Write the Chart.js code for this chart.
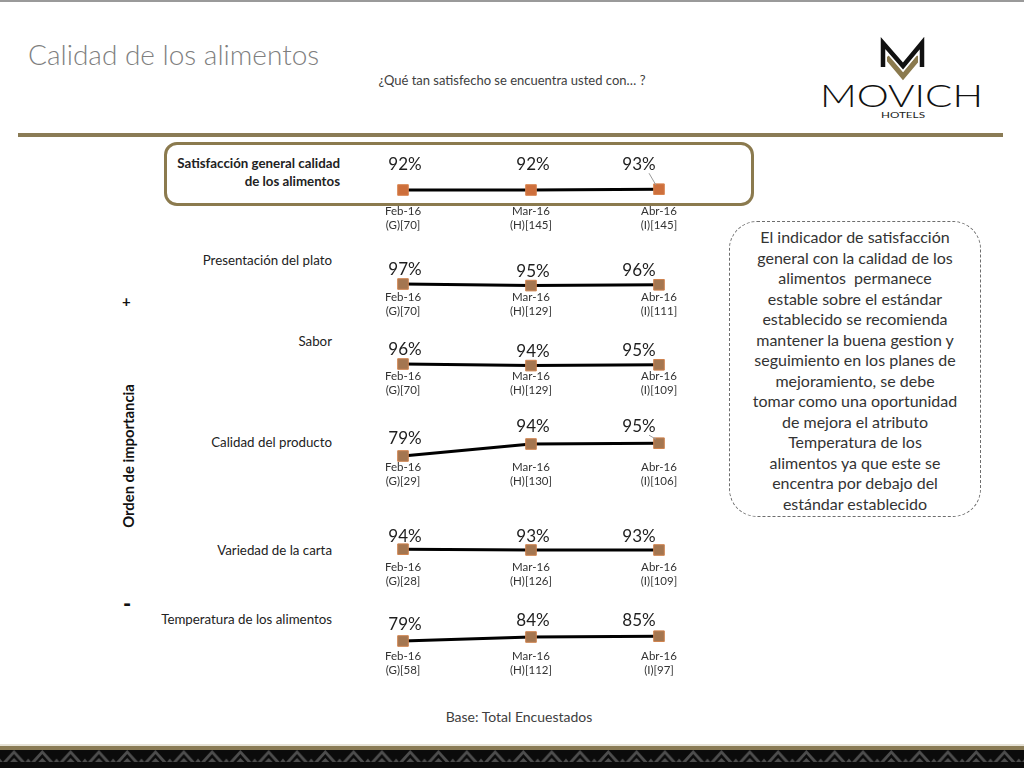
<!DOCTYPE html>
<html>
<head>
<meta charset="utf-8">
<script src="https://cdn.jsdelivr.net/npm/chart.js@4"></script>
<style>
  body { margin: 0; background: #fff; font-family: Lato, "Open Sans", sans-serif; }
  #slide { position: relative; width: 1024px; height: 768px; overflow: hidden; background: #fff; }
  .abs { position: absolute; }
  #topline { left: 0; top: 0; width: 1024px; height: 2px; background: #9a9a9a; }
  #titulo { left: 28px; top: 39px; font-size: 28px; font-weight: 300; color: #7f7f7f; line-height: 30px; white-space: nowrap; }
  #pregunta { left: 312px; width: 400px; top: 72px; text-align: center; font-size: 13px; color: #404040; }
  #regla { left: 18px; top: 133px; width: 985px; height: 4px; background: #8a7b55; }
  #caja { left: 164px; top: 142px; width: 584px; height: 58px; border: 3px solid #8b7a4e; border-radius: 13px; }
  .attr { right: 692px; font-size: 13.3px; color: #222; text-align: right; white-space: nowrap; line-height: 18px; }
  #a0 { right: 684px; top: 154px; font-weight: bold; }
  #orden { left: 128px; top: 456px; transform: translate(-50%, -50%) rotate(-90deg); font-size: 14.8px; font-weight: bold; color: #111; white-space: nowrap; }
  #mas { left: 122px; top: 292px; font-size: 15px; font-weight: bold; color: #111; }
  #menos { left: 123px; top: 590px; font-size: 22px; font-weight: 900; color: #111; }
  #nota { left: 729px; top: 221px; width: 250px; height: 294px; border: 1px dashed #6d6d6d; border-radius: 28px; }
  #notaTexto { left: 725px; top: 227px; width: 260px; text-align: center; font-size: 16px; line-height: 20.5px; color: #333; }
  #base { left: 369px; width: 300px; top: 708px; text-align: center; font-size: 14px; color: #404040; }
  canvas.mini { position: absolute; left: 340px; }
</style>
</head>
<body>
<div id="slide">
  <div class="abs" id="topline"></div>
  <div class="abs" id="titulo">Calidad de los alimentos</div>
  <div class="abs" id="pregunta">¿Qué tan satisfecho se encuentra usted con… ?</div>

  <svg class="abs" style="left:810px;top:34px" width="190" height="90" viewBox="810 34 190 90">
    <polyline points="887,57 903,76 919,57" fill="none" stroke="#8b7a4e" stroke-width="5.5"/>
    <polyline points="883,67 883,43 903,66 922,43 922,67" fill="none" stroke="#fff" stroke-width="8" stroke-linejoin="miter"/>
    <polyline points="883,67 883,43 903,66 922,43 922,67" fill="none" stroke="#111" stroke-width="4.5" stroke-linejoin="miter"/>
    <text x="820" y="107" textLength="163" lengthAdjust="spacingAndGlyphs" font-family="Lato" font-weight="300" font-size="31" fill="#111">MOVICH</text>
    <text x="881" y="117.5" textLength="44" lengthAdjust="spacingAndGlyphs" font-family="Lato" font-size="8" fill="#222">HOTELS</text>
  </svg>

  <div class="abs" id="regla"></div>
  <div class="abs" id="caja"></div>

  <div class="abs attr" id="a0">Satisfacción general calidad<br>de los alimentos</div>
  <div class="abs attr" style="top:251px">Presentación del plato</div>
  <div class="abs attr" style="top:332px">Sabor</div>
  <div class="abs attr" style="top:433px">Calidad del producto</div>
  <div class="abs attr" style="top:541px">Variedad de la carta</div>
  <div class="abs attr" style="top:610px">Temperatura de los alimentos</div>

  <div class="abs" id="mas">+</div>
  <div class="abs" id="orden">Orden de importancia</div>
  <div class="abs" id="menos">-</div>

  <canvas class="mini" id="g0" width="360" height="84"></canvas>
  <canvas class="mini" id="g1" width="360" height="84"></canvas>
  <canvas class="mini" id="g2" width="360" height="84"></canvas>
  <canvas class="mini" id="g3" width="360" height="84"></canvas>
  <canvas class="mini" id="g4" width="360" height="84"></canvas>
  <canvas class="mini" id="g5" width="360" height="84"></canvas>

  <div class="abs" id="nota"></div>
  <div class="abs" id="notaTexto">El indicador de satisfacción<br>general con la calidad de los<br>alimentos&nbsp; permanece<br>estable sobre el estándar<br>establecido se recomienda<br>mantener la buena gestion y<br>seguimiento en los planes de<br>mejoramiento, se debe<br>tomar como una oportunidad<br>de mejora el atributo<br>Temperatura de los<br>alimentos ya que este se<br>encentra por debajo del<br>estándar establecido</div>

  <div class="abs" id="base">Base: Total Encuestados</div>

  <svg class="abs" style="left:0;top:744px" width="1024" height="24">
    <defs>
      <pattern id="tri" x="0" y="0" width="28.3" height="18" patternUnits="userSpaceOnUse">
        <rect width="28.3" height="18" fill="#0b0b0b"/>
        <path d="M3,18 L14,6 L25,18 Z" fill="#4d4d4d"/>
        <path d="M7,18 L14,10 L21,18 Z" fill="#0b0b0b"/>
        <path d="M10,18 L14,14 L18,18 Z" fill="#4d4d4d"/>
        <path d="M25.5,18 L28.3,14.5 L31,18 Z" fill="#4d4d4d"/>
        <path d="M-2.7,18 L0,14.5 L2.7,18 Z" fill="#4d4d4d"/>
      </pattern>
    </defs>
    <rect x="0" y="0" width="1024" height="2" fill="#e6e2d6"/>
    <rect x="0" y="2" width="1024" height="4" fill="#8a7b55"/>
    <rect x="0" y="6" width="1024" height="18" fill="url(#tri)"/>
  </svg>
</div>

<script>
// ---- datos ----
const periodos = ["Feb-16", "Mar-16", "Abr-16"];

const satisfaccionGeneral = [92, 92, 93];
const presentacionPlato = [97, 95, 96];
const sabor = [96, 94, 95];
const calidadProducto = [79, 94, 95];
const variedadCarta = [94, 93, 93];
const temperaturaAlimentos = [79, 84, 85];

const basesGeneral = ["(G)[70]", "(H)[145]", "(I)[145]"];
const basesPresentacion = ["(G)[70]", "(H)[129]", "(I)[111]"];
const basesSabor = ["(G)[70]", "(H)[129]", "(I)[109]"];
const basesCalidad = ["(G)[29]", "(H)[130]", "(I)[106]"];
const basesVariedad = ["(G)[28]", "(H)[126]", "(I)[109]"];
const basesTemperatura = ["(G)[58]", "(H)[112]", "(I)[97]"];

// value labels drawn above each point
const etiquetasValor = {
    id: "etiquetasValor",
    afterDatasetsDraw(chart, args, opts) {
        const ctx = chart.ctx;
        const meta = chart.getDatasetMeta(0);
        const datos = chart.data.datasets[0].data;
        ctx.save();
        meta.data.forEach((pt, i) => {
            const last = i === meta.data.length - 1;
            const x = pt.x + (last ? -20 : 2);
            const y = pt.y - opts.lift;
            if (last && opts.guia) {
                ctx.strokeStyle = "#9a9a9a";
                ctx.lineWidth = 1;
                ctx.beginPath();
                ctx.moveTo(x + 10, y + 9);
                ctx.lineTo(pt.x - 3, pt.y - 4);
                ctx.stroke();
            }
            ctx.font = "17px Lato";
            ctx.fillStyle = "#1e1e1e";
            ctx.textAlign = "center";
            ctx.textBaseline = "middle";
            ctx.fillText(datos[i] + "%", x, y);
        });
        ctx.restore();
    }
};

function miniGrafico(id, top, valores, bases, yMin, lift, principal, guia) {
    const canvas = document.getElementById(id);
    canvas.style.top = top + "px";
    new Chart(canvas, {
        type: "line",
        data: {
            labels: periodos.map((p, i) => [p, bases[i]]),
            datasets: [{
                data: valores,
                borderColor: "#000",
                borderWidth: 3,
                tension: 0,
                clip: false,
                pointStyle: "rect",
                pointRadius: 7.5,
                pointBorderWidth: 1,
                pointBackgroundColor: principal ? "#cd6f3c" : "#a47650",
                pointBorderColor: principal ? "#d9844f" : "#d0844f"
            }]
        },
        options: {
            responsive: false,
            animation: false,
            layout: { padding: { left: 63, right: 41, top: 10, bottom: 0 } },
            plugins: {
                legend: { display: false },
                tooltip: { enabled: false },
                etiquetasValor: { lift: lift, guia: guia }
            },
            scales: {
                x: {
                    offset: false,
                    grid: { display: false, drawTicks: false },
                    border: { display: false },
                    afterFit: (s) => { s.height = 34; },
                    ticks: {
                        autoSkip: false,
                        maxRotation: 0,
                        padding: 2,
                        color: "#333",
                        font: { family: "Lato", size: 11.5, lineHeight: 1.25 }
                    }
                },
                y: { display: false, min: yMin, max: yMin + 50 }
            }
        },
        plugins: [etiquetasValor]
    });
}

document.addEventListener("DOMContentLoaded", function () {
    miniGrafico("g0", 152, satisfaccionGeneral, basesGeneral, 77, 25, true, true);
    miniGrafico("g1", 238, presentacionPlato, basesPresentacion, 92, 14, false, false);
    miniGrafico("g2", 317, sabor, basesSabor, 92.25, 14, false, false);
    miniGrafico("g3", 408, calidadProducto, basesCalidad, 76.5, 17, false, true);
    miniGrafico("g4", 508, variedadCarta, basesVariedad, 83, 13, false, false);
    miniGrafico("g5", 597, temperaturaAlimentos, basesTemperatura, 71.5, 16, false, false);
});
</script>
</body>
</html>
